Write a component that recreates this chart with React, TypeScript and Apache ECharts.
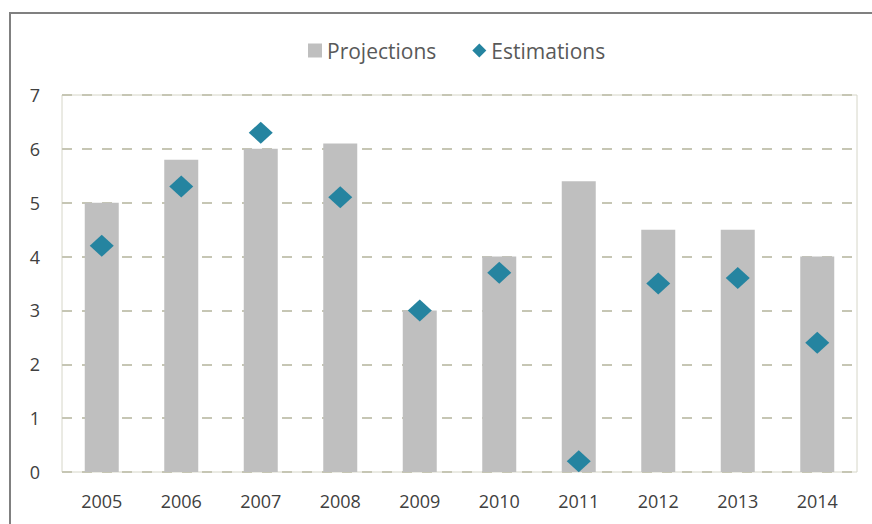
import React, { useEffect, useRef } from "react";
import * as echarts from "echarts";

const categories = ["2005", "2006", "2007", "2008", "2009", "2010", "2011", "2012", "2013", "2014"];
const projections = [5.0, 5.8, 6.0, 6.1, 3.0, 4.0, 5.4, 4.5, 4.5, 4.0];
const estimations = [4.2, 5.3, 6.3, 5.1, 3.0, 3.7, 0.2, 3.5, 3.6, 2.4];
const yTicks = [0, 1, 2, 3, 4, 5, 6, 7];

export default function App() {
  const ref = useRef<HTMLDivElement>(null);
  useEffect(() => {
    document.body.style.margin = "0";
    if (!ref.current) return;
    const chart = echarts.init(ref.current, undefined, { renderer: "svg" });
    const font = "'Open Sans', 'Noto Sans', sans-serif";
    chart.setOption({
      animation: false,
      backgroundColor: "#ffffff",
      textStyle: { fontFamily: font },
      graphic: [
        {
          type: "rect",
          shape: { x: 10, y: 13, width: 900, height: 600 },
          style: { fill: "none", stroke: "#808080", lineWidth: 2 },
          silent: true,
        },
      ],
      legend: {
        top: 35,
        left: 303,
        itemGap: 36,
        itemWidth: 14,
        itemHeight: 14,
        textStyle: { fontSize: 21, color: "#595959", fontFamily: font },
        data: [
          { name: "Projections", icon: "rect" },
          { name: "Estimations", icon: "diamond" },
        ],
      },
      grid: {
        left: 62,
        right: 15,
        top: 95,
        bottom: 52,
        show: true,
        borderColor: "#d6d6c8",
        borderWidth: 1,
      },
      xAxis: {
        type: "category",
        data: categories,
        axisLine: { show: false },
        axisTick: { show: false },
        axisLabel: { fontSize: 18, color: "#404040", margin: 20, fontFamily: font },
      },
      yAxis: {
        type: "value",
        min: yTicks[0],
        max: yTicks[yTicks.length - 1],
        interval: 1,
        axisLine: { show: false },
        axisTick: { show: false },
        axisLabel: { fontSize: 18, color: "#404040", margin: 22, fontFamily: font },
        splitLine: {
          show: true,
          lineStyle: { color: "#c6c6b4", width: 2, type: [10, 10] },
        },
      },
      series: [
        {
          name: "Projections",
          type: "bar",
          data: projections,
          barWidth: 34,
          itemStyle: { color: "#bfbfbf" },
          z: 2,
        },
        {
          name: "Estimations",
          type: "scatter",
          data: estimations,
          symbol: "diamond",
          symbolSize: [24, 22],
          itemStyle: { color: "#2584a0", opacity: 1 },
          z: 3,
        },
      ],
    });
    return () => chart.dispose();
  }, []);
  return <div ref={ref} style={{ width: 872, height: 524 }} />;
}
